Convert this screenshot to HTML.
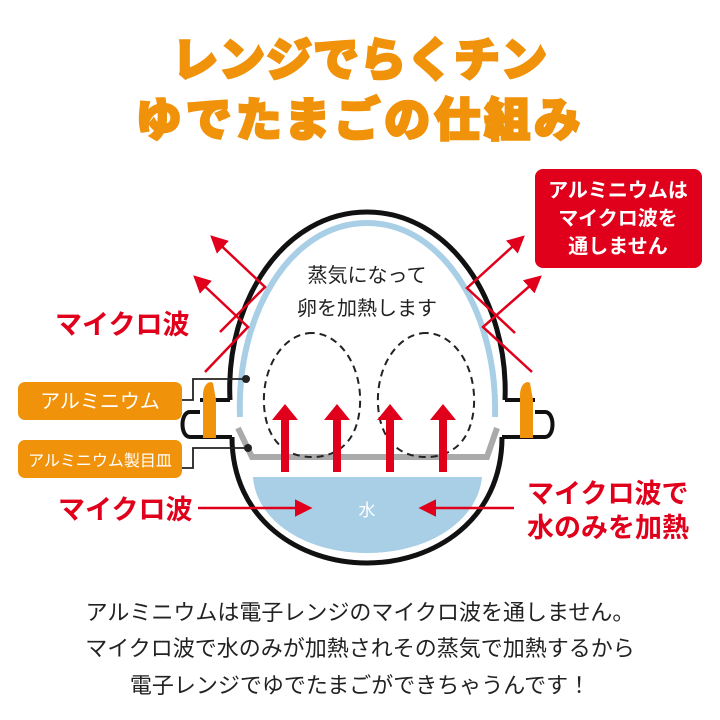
<!DOCTYPE html>
<html><head><meta charset="utf-8"><style>
html,body{margin:0;padding:0;background:#fff;}
svg{display:block;font-family:"Liberation Sans","Noto Sans CJK JP",sans-serif;}
</style></head><body>
<svg width="720" height="720" viewBox="0 0 720 720" xmlns="http://www.w3.org/2000/svg">
<defs>
<marker id="ah" markerWidth="7" markerHeight="7" refX="6" refY="3.5" orient="auto" markerUnits="strokeWidth"><path d="M0,0 L7,3.5 L0,7 z" fill="#e0001b"/></marker>
</defs>
<g font-weight="900" fill="#f0920a" stroke="#f0920a" stroke-width="2.5" text-anchor="middle" font-size="46">
<text x="360" y="76" letter-spacing="1">レンジでらくチン</text>
<text x="360" y="136" letter-spacing="4">ゆでたまごの仕組み</text>
</g>
<path d="M232,437 C232,520 300,563 367,563 C434,563 502,520 502,437" fill="none" stroke="#111" stroke-width="5"/>
<path d="M253,477 L482,477 C478,520 430,553 367,553 C304,553 256,520 253,477 Z" fill="#a9cfe6"/>
<path d="M230,400 C225,300 285,212 367,212 C449,212 509,300 505,400" fill="none" stroke="#111" stroke-width="5"/>
<path d="M230,400 L200,400 M232,437 L200,437 M200,412 L190,412 C180,412 180,437 190,437 L200,437" fill="none" stroke="#111" stroke-width="4"/>
<path d="M505,400 L535,400 M502,437 L535,437 M535,412 L545,412 C555,412 555,437 545,437 L535,437" fill="none" stroke="#111" stroke-width="4"/>
<path d="M203,438 L203,395 C203,385 209,380 213,383 L216,400 L216,438 Z" fill="#f0920a"/>
<path d="M520,438 L520,395 C520,385 526,380 530,383 L533,400 L533,438 Z" fill="#f0920a"/>
<path d="M240,417 C236,315 290,223 367,223 C444,223 498,315 495,417" fill="none" stroke="#a9cfe6" stroke-width="6"/>
<path d="M238,428 L252,457 L487,457 L497,428" fill="none" stroke="#aaa" stroke-width="6"/>
<g fill="none" stroke="#222" stroke-width="2" stroke-dasharray="7,5">
<path d="M312,333 C285,333 262,365 264,405 C266,440 285,457 312,457 C339,457 358,440 360,405 C362,365 339,333 312,333 Z"/>
<path d="M426,333 C399,333 376,365 378,405 C380,440 399,457 426,457 C453,457 472,440 474,405 C476,365 453,333 426,333 Z"/>
</g>
<g font-size="20" fill="#222" text-anchor="middle">
<text x="367" y="282">蒸気になって</text>
<text x="367" y="315">卵を加熱します</text>
</g>
<text x="367" y="516" font-size="17" fill="#fff" text-anchor="middle">水</text>
<g fill="#e0001b">
<path d="M281,472 L281,420 L272,420 L285,404 L298,420 L289,420 L289,472Z"/>
<path d="M333,472 L333,420 L324,420 L337,404 L350,420 L341,420 L341,472Z"/>
<path d="M386,472 L386,420 L377,420 L390,404 L403,420 L394,420 L394,472Z"/>
<path d="M439,472 L439,420 L430,420 L443,404 L456,420 L447,420 L447,472Z"/>
</g>
<g fill="none" stroke="#e0001b" stroke-width="2.5">
<polyline points="220,332 265,287 212,237" marker-end="url(#ah)"/>
<polyline points="205,372 248,327 195,277" marker-end="url(#ah)"/>
<polyline points="515,333 467,288 523,237" marker-end="url(#ah)"/>
<polyline points="532,372 483,327 540,277" marker-end="url(#ah)"/>
<line x1="198" y1="508" x2="310" y2="508" marker-end="url(#ah)"/>
<line x1="514" y1="508" x2="421" y2="508" marker-end="url(#ah)"/>
</g>
<g fill="#e0001b" font-weight="bold" font-size="27">
<text x="55" y="334">マイクロ波</text>
<text x="58" y="519">マイクロ波</text>
<text x="527" y="503">マイクロ波で</text>
<text x="527" y="537">水のみを加熱</text>
</g>
<rect x="535" y="169" width="167" height="99" rx="8" fill="#e0001b"/>
<g fill="#fff" font-size="20" text-anchor="middle" font-weight="bold">
<text x="618" y="197">アルミニウムは</text>
<text x="618" y="225">マイクロ波を</text>
<text x="618" y="253">通しません</text>
</g>
<rect x="18" y="382" width="164" height="38" rx="7" fill="#f0920a"/>
<rect x="18" y="440" width="164" height="38" rx="7" fill="#f0920a"/>
<text x="100" y="408" fill="#fff" font-size="20" text-anchor="middle">アルミニウム</text>
<text x="100" y="466" fill="#fff" font-size="16" text-anchor="middle">アルミニウム製目皿</text>
<g fill="none" stroke="#222" stroke-width="1.8">
<polyline points="182,400 193,400 193,379 246,379"/>
<polyline points="182,468 193,468 193,448 248,448"/>
</g>
<circle cx="246" cy="379" r="4" fill="#222"/>
<circle cx="248" cy="448" r="4" fill="#222"/>
<g fill="#222" font-size="22" text-anchor="middle">
<text x="360" y="620">アルミニウムは電子レンジのマイクロ波を通しません。</text>
<text x="360" y="656">マイクロ波で水のみが加熱されその蒸気で加熱するから</text>
<text x="360" y="693">電子レンジでゆでたまごができちゃうんです！</text>
</g>
</svg>
</body></html>
